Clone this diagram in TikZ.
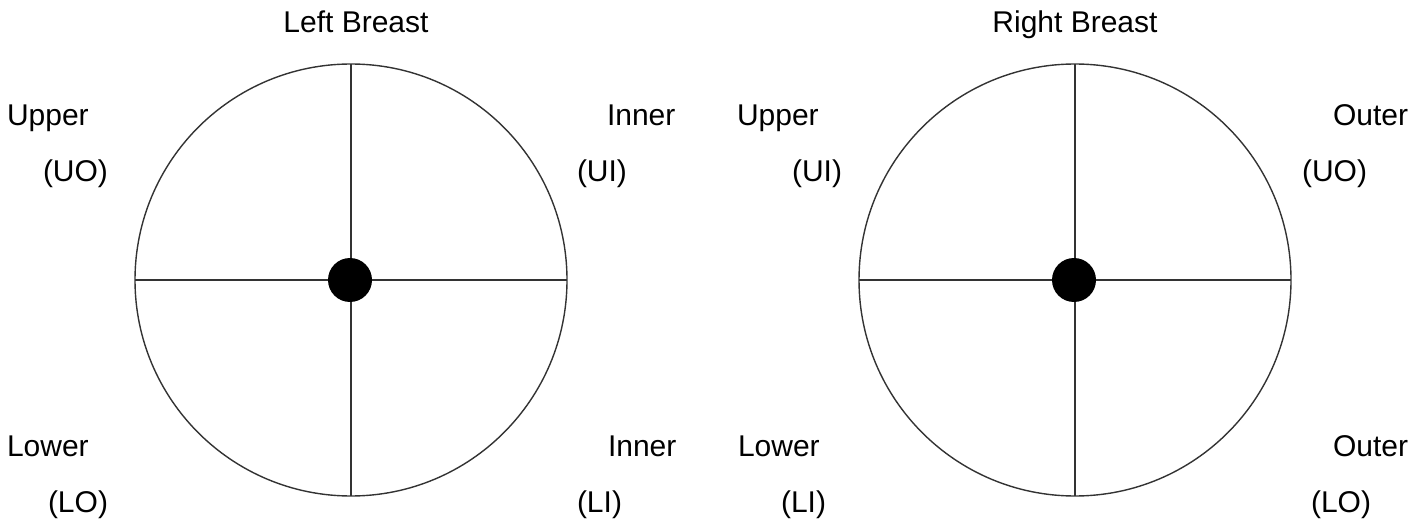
\documentclass[tikz,border=0pt]{standalone}
\usepackage{fontspec}
\setmainfont{Liberation Sans}
\begin{document}
\begin{tikzpicture}[x=1pt,y=-1pt,
  ring/.style={circle,draw=black!80,line width=1.4pt,minimum size=432pt,inner sep=0pt,outer sep=0pt},
  nipple/.style={circle,fill=black,draw=none,minimum size=44pt,inner sep=0pt},
  divider/.style={draw=black!80,line width=1.4pt},
  lbl/.style={anchor=base west,inner sep=0pt,outer sep=0pt,font=\fontsize{30}{36}\selectfont},
  ttl/.style={anchor=base,inner sep=0pt,outer sep=0pt,font=\fontsize{30}{36}\selectfont}]
\useasboundingbox (0,0) rectangle (1426,521);
% left breast
\node[ring] (L) at (351,280) {};
\draw[divider] (L.north) -- (L.south);
\draw[divider] (L.west) -- (L.east);
\node[nipple] (Ld) at (350,280) {};
% right breast
\node[ring] (R) at (1075,280) {};
\draw[divider] (R.north) -- (R.south);
\draw[divider] (R.west) -- (R.east);
\node[nipple] (Rd) at (1074,280) {};
% titles
\node[ttl] (tL) at (356,33) {Left Breast};
\node[ttl] (tR) at (1075,33) {Right Breast};
% left labels
\node[lbl] (l1) at (7,126) {Upper};
\node[lbl] (l2) at (43,182) {(UO)};
\node[lbl] (l3) at (607,126) {Inner};
\node[lbl] (l4) at (577,182) {(UI)};
\node[lbl] (l5) at (7,456) {Lower};
\node[lbl] (l6) at (48,512) {(LO)};
\node[lbl] (l7) at (608,456) {Inner};
\node[lbl] (l8) at (577,512) {(LI)};
% right labels
\node[lbl] (r1) at (737,126) {Upper};
\node[lbl] (r2) at (792,182) {(UI)};
\node[lbl] (r3) at (1333,126) {Outer};
\node[lbl] (r4) at (1302,182) {(UO)};
\node[lbl] (r5) at (738,456) {Lower};
\node[lbl] (r6) at (781,512) {(LI)};
\node[lbl] (r7) at (1333,456) {Outer};
\node[lbl] (r8) at (1311,512) {(LO)};
\end{tikzpicture}
\end{document}
